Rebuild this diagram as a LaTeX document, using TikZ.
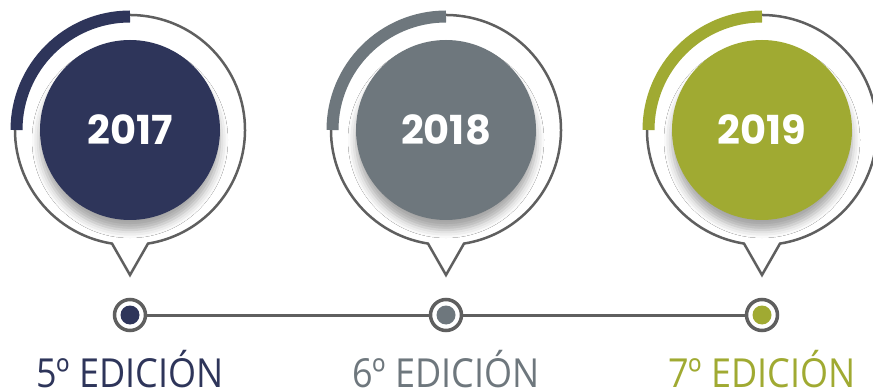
\documentclass[tikz,border=0pt]{standalone}
\usepackage{fontspec}
\setmainfont{Open Sans}
\newfontfamily\yearfont{Poppins}
\usetikzlibrary{calc,shadows.blur}

\definecolor{pinnavy}{HTML}{2E355A}
\definecolor{pinslate}{HTML}{6E777D}
\definecolor{pingreen}{HTML}{A0AA32}
\definecolor{linegray}{HTML}{5F5F5F}

\begin{document}
\begin{tikzpicture}[x=1pt,y=-1pt,
    pinline/.style={draw=linegray,line width=2.5pt,fill=white,line join=miter},
    yearbox/.style={circle,inner sep=0pt,minimum size=180pt,text=white,
      font=\yearfont\bfseries\fontsize{40}{40}\selectfont,
      blur shadow={shadow xshift=0pt,shadow yshift=-10pt,shadow blur radius=8pt,shadow opacity=35}},
    dotring/.style={circle,draw=linegray,line width=3.5pt,fill=white,inner sep=0pt,minimum size=31pt},
    edlabel/.style={anchor=base,inner sep=0pt,font=\fontsize{40}{40}\selectfont}]

  \useasboundingbox (0,0) rectangle (873,390);

  % Draw the three pins
  \foreach \x/\col/\yr/\ed [count=\i] in {130/pinnavy/2017/5, 446/pinslate/2018/6, 762/pingreen/2019/7} {
    \coordinate (c\i) at (\x,130);

    % outline with the tail
    \draw[pinline] ($(c\i)+(99:115)$) arc[start angle=99,end angle=441,radius=115] -- (\x,275) -- cycle;

    % progress arc
    \draw[line width=12pt,\col] ($(c\i)+(180:113.5)$) arc[start angle=180,end angle=270,radius=113.5];

    % year disc
    \node[yearbox,fill=\col] (pin\i) at (c\i) {\yr};

    % timeline dot
    \node[dotring] (dot\i) at (\x,315) {};
    \fill[\col] (dot\i.center) circle (9.5);

    % edition label
    \node[edlabel,text=\col] (ed\i) at (\x,387) {\scalebox{0.9}[1]{\ed º EDICIÓN}};
  }

  % Draw the timeline
  \draw[linegray,line width=3pt] (dot1) -- (dot2) -- (dot3);

\end{tikzpicture}
\end{document}
